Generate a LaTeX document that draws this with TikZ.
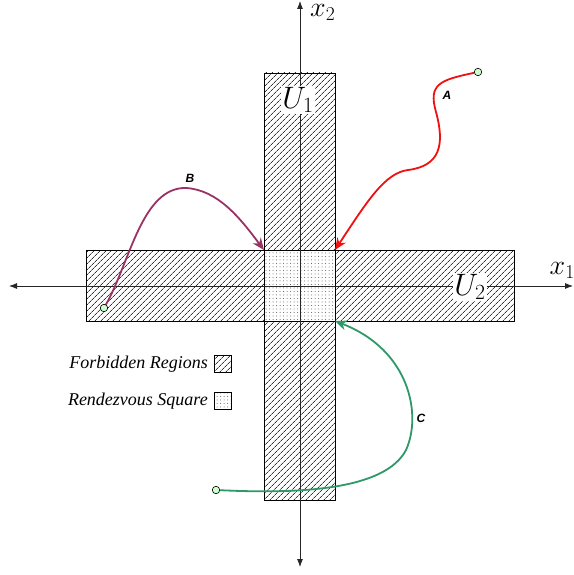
\RequirePackage{fix-cm}
\documentclass[tikz,border=0pt]{standalone}
\usepackage[no-math]{fontspec}
\setmainfont{Liberation Serif}
\newfontfamily\labelfont{Liberation Sans}
\usetikzlibrary{arrows.meta, positioning, patterns.meta}

\definecolor{pathA}{HTML}{EE1111}
\definecolor{pathB}{HTML}{993366}
\definecolor{pathC}{HTML}{2E9966}
\definecolor{startfill}{HTML}{CCFFCC}

\begin{document}
\begin{tikzpicture}[
    x=1pt, y=-1pt,
    forbidden/.style={
        draw=black, line width=0.8pt,
        pattern={Lines[angle=45,distance=4pt,line width=0.75pt]},
        pattern color=black!80,
        inner sep=0pt, outer sep=0pt
    },
    rendezvous/.style={
        draw=black, line width=0.8pt,
        preaction={fill=white},
        pattern={Dots[distance=3.5pt,radius=0.5pt]},
        pattern color=black!65,
        inner sep=0pt, outer sep=0pt
    },
    axis/.style={draw=black!85, line width=0.8pt, {Latex[length=8pt,width=6pt]}-{Latex[length=8pt,width=6pt]}},
    setlabel/.style={fill=white, inner sep=1pt, font=\fontsize{31}{36}\selectfont},
    axislabel/.style={inner sep=0pt, font=\fontsize{28}{32}\selectfont},
    legendtext/.style={font=\itshape\fontsize{18}{21}\selectfont, inner sep=0pt},
    startpt/.style={circle, draw=black, fill=startfill, line width=0.6pt, inner sep=0pt, minimum size=7.5pt},
    route/.style={line width=1.8pt, -{Stealth[length=12pt,width=10pt]}},
    routelabel/.style={font=\labelfont\bfseries\itshape\fontsize{12}{14}\selectfont}
]
\useasboundingbox (0,0) rectangle (573,575);

% Forbidden regions
\node[forbidden, minimum width=71pt, minimum height=427pt] (uone) at (299.5,286.5) {};
\node[forbidden, minimum width=428pt, minimum height=71pt] (utwo) at (300,285.5) {};

% Rendezvous square
\node[rendezvous, minimum size=71pt] (rendezvous) at (299.5,285.5) {};

% Axes
\coordinate (xleft) at (9,286);
\coordinate (xright) at (573,286);
\coordinate (ytop) at (300,1);
\coordinate (ybottom) at (300,567);
\draw[axis] (xleft) -- (xright);
\draw[axis] (ybottom) -- (ytop);
\node[axislabel, anchor=south east] (xone) at (575,279) {$x_1$};
\node[axislabel, anchor=north west] (xtwo) at (310,4) {$x_2$};

% Set labels
\node[setlabel] (uonelabel) at (298,100) {$U_1$};
\node[setlabel] (utwolabel) at (470,287) {$U_2$};

% Legend
\node[legendtext, anchor=east] (forbtext) at (208,364) {Forbidden Regions};
\node[forbidden, minimum size=17pt, right=6pt of forbtext] (forbkey) {};
\node[legendtext, anchor=east] (rendtext) at (208,401) {Rendezvous Square};
\node[rendezvous, minimum size=17pt, right=6pt of rendtext] (rendkey) {};

% Routes
\node[startpt] (astart) at (478,72) {};
\node[startpt] (bstart) at (104,308) {};
\node[startpt] (cstart) at (216,490) {};

\draw[route, pathA] (astart) .. controls (440,80) and (428,84) .. (436,112)
    .. controls (445,145) and (440,166) .. (408,170)
    .. controls (385,173) and (368,200) .. (rendezvous.north east);
\draw[route, pathB] (bstart) .. controls (130,262) and (142,187) .. (186,188)
    .. controls (218,190) and (240,218) .. (rendezvous.north west);
\draw[route, pathC] (cstart) .. controls (300,494) and (385,490) .. (406,450)
    .. controls (422,415) and (410,350) .. (rendezvous.south east);

\node[routelabel] (alabel) at (447,95) {A};
\node[routelabel] (blabel) at (190,178) {B};
\node[routelabel] (clabel) at (421,418) {C};

\end{tikzpicture}
\end{document}
